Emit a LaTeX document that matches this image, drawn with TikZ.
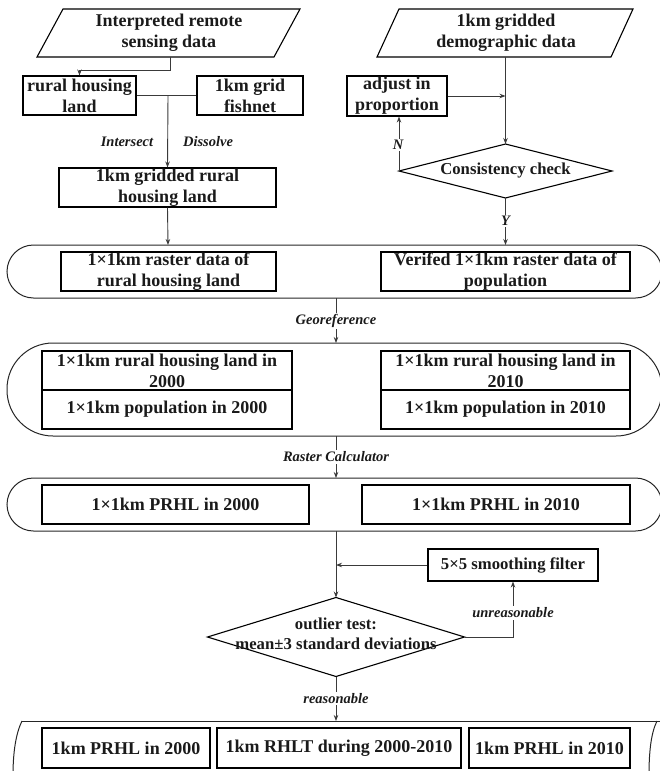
\documentclass[tikz,border=0pt]{standalone}
\usepackage{fontspec}
\setmainfont{Liberation Serif}
\usetikzlibrary{arrows.meta}
\definecolor{ln}{HTML}{3A3A3A}
\definecolor{tx}{HTML}{1A1A1A}
\begin{document}
\begin{tikzpicture}[x=1pt,y=-1pt,
  bigtxt/.style={font=\fontsize{18}{21}\selectfont\bfseries, text=tx, align=center, inner sep=0pt},
  midtxt/.style={font=\fontsize{16.7}{20}\selectfont\bfseries, text=tx, align=center, inner sep=0pt},
  box/.style={bigtxt, draw=black, line width=1.1pt},
  shapeline/.style={draw=black, line width=1.1pt},
  container/.style={draw=black!85, line width=1pt},
  conn/.style={draw=ln, line width=0.9pt},
  arr/.style={conn, -{Stealth[length=6pt,width=4.5pt]}},
  lab/.style={font=\fontsize{14.5}{16}\selectfont\bfseries\itshape, text=tx, inner sep=1.5pt},
  onl/.style={lab, fill=white}
]
\useasboundingbox (0,0) rectangle (660,771);
\clip (0,0) rectangle (660,771);

% ---------- left top ----------
\draw[shapeline] (63,9) -- (300,9) -- (274,57) -- (37,57) -- cycle;
\node[bigtxt] (p1) at (169,33) {Interpreted remote\\sensing data};
\coordinate (p1b) at (170,57);
\node[box, minimum width=113pt, minimum height=39pt] (rhl) at (79.5,95.5) {rural housing\\land};
\node[box, minimum width=106pt, minimum height=39pt] (fish) at (250,95.5) {1km grid\\fishnet};
\draw[arr] (p1b) -- (170,70) -| (rhl.north);
\draw[conn] (rhl.east) -- (fish.west);
\coordinate (j1) at (168,95.5);
\node[box, minimum width=217pt, minimum height=39pt] (grl) at (167.5,187.5) {1km gridded rural\\housing land};
\draw[arr] (j1) -- (grl.north);
\node[lab] (inter) at (127,142) {Intersect};
\node[lab] (diss) at (208,142) {Dissolve};

% ---------- right top ----------
\draw[shapeline] (399,9) -- (633,9) -- (611,57) -- (377,57) -- cycle;
\node[bigtxt] (p2) at (506,33) {1km gridded\\demographic data};
\coordinate (p2b) at (505.5,57);
\node[box, minimum width=100pt, minimum height=40pt] (adj) at (397,96) {adjust in\\proportion};
\coordinate (d1t) at (505.5,144);
\coordinate (d1r) at (612,171);
\coordinate (d1b) at (505.5,198);
\coordinate (d1l) at (399,171);
\draw[shapeline] (d1t) -- (d1r) -- (d1b) -- (d1l) -- cycle;
\node[midtxt] (d1) at (505.5,171) {Consistency check};
\draw[arr] (p2b) -- (d1t);
\coordinate (adjj) at (505.5,96);
\draw[arr] (adj.east) -- (adjj);
\draw[arr] (d1l) -- (d1l |- adj.south);
\node[onl] (nlab) at (398,145) {N};

% ---------- container 1 ----------
\draw[container, rounded corners=26.5pt] (7,245) rectangle (662,298);
\node[box, minimum width=215pt, minimum height=39pt] (ras) at (168.5,271.5) {1×1km raster data of\\rural housing land};
\node[box, minimum width=249pt, minimum height=39pt] (ver) at (505.5,271.5) {Verifed 1×1km raster data of\\population};
\coordinate (c1tl) at (168,245);
\coordinate (c1tr) at (505.5,245);
\draw[arr] (grl.south) -- (c1tl);
\draw[arr] (d1b) -- (c1tr);
\node[onl] (ylab) at (505.5,221) {Y};

% ---------- georeference ----------
\coordinate (c1b) at (336,298);
\coordinate (c2t) at (336,343);
\draw[arr] (c1b) -- (c2t);
\node[onl] (geo) at (336,321) {Georeference};

% ---------- container 2 ----------
\draw[container, rounded corners=46pt] (7,343) rectangle (662,436);
\node[box, minimum width=250pt, minimum height=39pt] (l1) at (167,370.5) {1×1km rural housing land in\\2000};
\node[box, minimum width=250pt, minimum height=39pt] (l2) at (167,409.5) {1×1km population in 2000};
\node[box, minimum width=249pt, minimum height=39pt] (r1) at (505.5,370.5) {1×1km rural housing land in\\2010};
\node[box, minimum width=249pt, minimum height=39pt] (r2) at (505.5,409.5) {1×1km population in 2010};

% ---------- raster calculator ----------
\coordinate (c2b) at (336,436);
\coordinate (c3t) at (336,478);
\draw[arr] (c2b) -- (c3t);
\node[onl] (rc) at (336,457) {Raster Calculator};

% ---------- container 3 ----------
\draw[container, rounded corners=26.5pt] (7,478) rectangle (662,531);
\node[box, minimum width=267pt, minimum height=39pt] (pr0) at (175.5,504.5) {1×1km PRHL in 2000};
\node[box, minimum width=268pt, minimum height=39pt] (pr1) at (496,504.5) {1×1km PRHL in 2010};

% ---------- outlier test ----------
\coordinate (c3b) at (336,531);
\coordinate (d2t) at (336,597.5);
\coordinate (d2r) at (464.5,637);
\coordinate (d2b) at (336,676.5);
\coordinate (d2l) at (207.5,637);
\draw[shapeline] (d2t) -- (d2r) -- (d2b) -- (d2l) -- cycle;
\node[midtxt] (d2) at (336,634) {outlier test:\\mean±3 standard deviations};
\draw[arr] (c3b) -- (d2t);
\node[box, font=\fontsize{16.7}{20}\selectfont\bfseries, minimum width=170pt, minimum height=32pt] (sm) at (513,565) {5×5 smoothing filter};
\coordinate (smj) at (336,565);
\draw[arr] (sm.west) -- (smj);
\draw[arr] (d2r) -| (sm.south);
\node[onl] (unr) at (513,613) {unreasonable};
\coordinate (c4t) at (336,721);
\draw[arr] (d2b) -- (c4t);
\node[onl] (rea) at (336,698.5) {reasonable};

% ---------- container 4 ----------
\draw[container] (22,721) -- (662,721);
\draw[container] (22,721) .. controls (16,733) and (13,752) .. (13,775);
\draw[container] (657,721) .. controls (651,733) and (649,752) .. (649,775);
\node[box, minimum width=168pt, minimum height=40pt] (f0) at (126,748) {1km PRHL in 2000};
\node[box, minimum width=244pt, minimum height=40pt] (ft) at (339,748) {1km RHLT during 2000-2010};
\node[box, minimum width=161pt, minimum height=40pt] (f1) at (549.5,748) {1km PRHL in 2010};
\end{tikzpicture}
\end{document}
